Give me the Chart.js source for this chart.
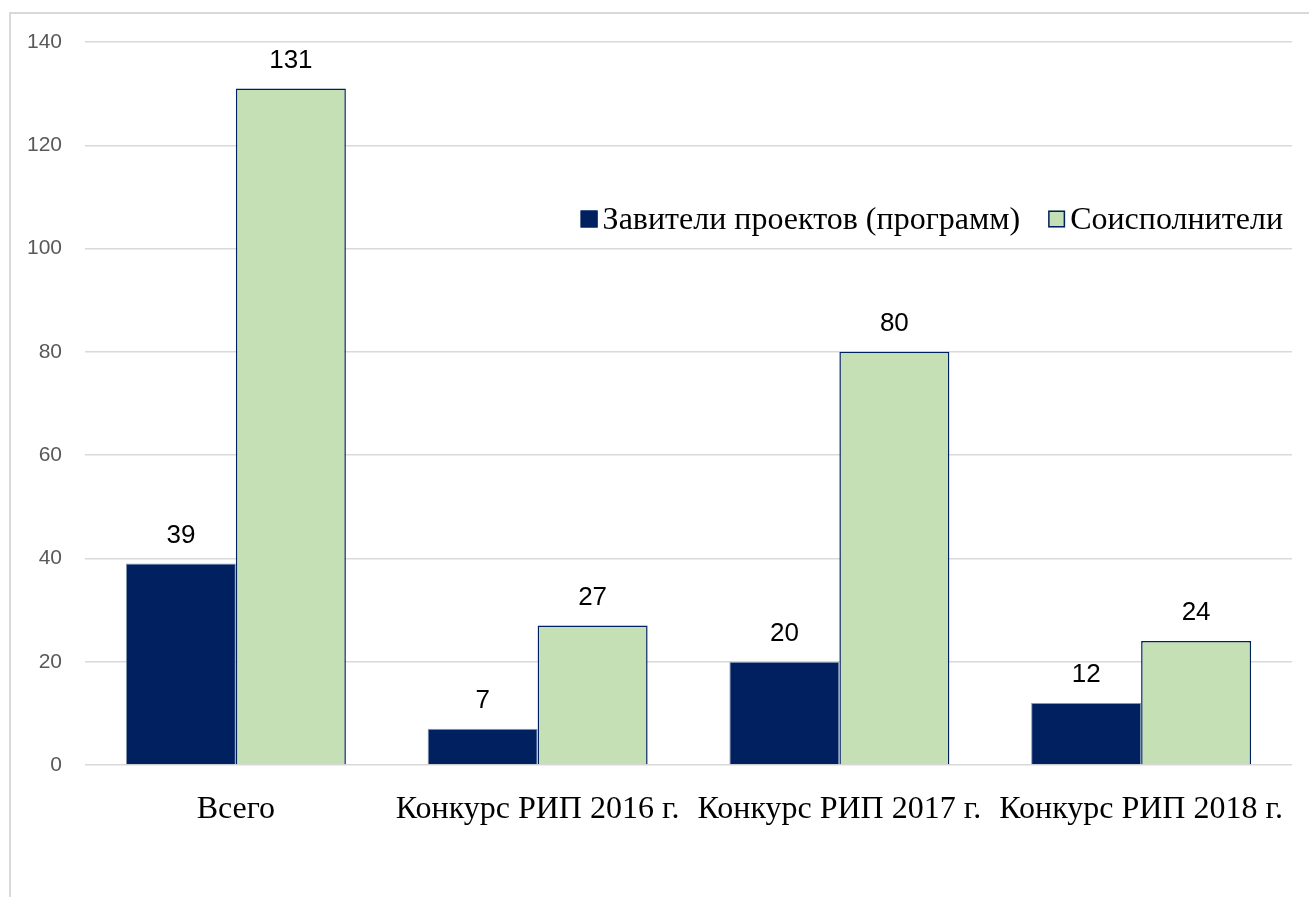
<!DOCTYPE html>
<html>
<head>
<meta charset="utf-8">
<script src="https://cdn.jsdelivr.net/npm/chart.js@4.4.0/dist/chart.umd.min.js"></script>
<style>
html,body{margin:0;padding:0;background:#fff;}
#wrap{position:relative;width:1309px;height:897px;}
canvas{display:block;}
</style>
</head>
<body>
<div id="wrap"><canvas id="c" width="1309" height="897"></canvas></div>
<script>
const categories = ["Всего", "Конкурс РИП 2016 г.", "Конкурс РИП 2017 г.", "Конкурс РИП 2018 г."];
const seriesNames = ["Завители проектов (программ)", "Соисполнители"];
const applicants = [39, 7, 20, 12];
const coexecutors = [131, 27, 80, 24];
const yTicks = [0, 20, 40, 60, 80, 100, 120, 140];

const NAVY = "#002060";
const GREEN = "#C5E0B4";

const frame = {
  id: "frame",
  beforeDraw(chart) {
    const ctx = chart.ctx;
    ctx.save();
    ctx.fillStyle = "#fff";
    ctx.fillRect(0, 0, chart.width, chart.height);
    ctx.strokeStyle = "#d9d9d9";
    ctx.lineWidth = 2;
    ctx.strokeRect(10, 13, 1400, 1000);
    ctx.restore();
  }
};

const valueLabels = {
  id: "valueLabels",
  afterDatasetsDraw(chart) {
    const ctx = chart.ctx;
    ctx.save();
    ctx.font = "26px 'Liberation Sans', Arial, sans-serif";
    ctx.fillStyle = "#000";
    ctx.textAlign = "center";
    ctx.textBaseline = "middle";
    chart.data.datasets.forEach((ds, i) => {
      const meta = chart.getDatasetMeta(i);
      meta.data.forEach((bar, j) => {
        ctx.fillText(String(ds.data[j]), bar.x, bar.y - 28);
      });
    });
    ctx.restore();
  }
};

const customLegend = {
  id: "customLegend",
  afterDraw(chart) {
    const ctx = chart.ctx;
    ctx.save();
    ctx.font = "32px 'Liberation Serif', 'Times New Roman', serif";
    ctx.textBaseline = "middle";
    ctx.textAlign = "left";
    const box = 17, gapBoxText = 5, gapItems = 28;
    const items = chart.data.datasets.map(ds => ({
      text: ds.label, bg: ds.backgroundColor, border: ds.borderColor,
      w: ctx.measureText(ds.label).width
    }));
    let total = 0;
    items.forEach((it, i) => { total += box + gapBoxText + it.w + (i < items.length - 1 ? gapItems : 0); });
    let x = 1283 - total;
    const cy = 219;
    items.forEach(it => {
      ctx.fillStyle = it.bg;
      ctx.fillRect(x, cy - box / 2, box, box);
      ctx.strokeStyle = NAVY;
      ctx.lineWidth = 1.5;
      ctx.strokeRect(x + 0.75, cy - box / 2 + 0.75, box - 1.5, box - 1.5);
      ctx.fillStyle = "#000";
      ctx.fillText(it.text, x + box + gapBoxText, cy + 2);
      x += box + gapBoxText + it.w + gapItems;
    });
    ctx.restore();
  }
};

new Chart(document.getElementById("c"), {
  type: "bar",
  data: {
    labels: categories,
    datasets: [
      { label: seriesNames[0], data: applicants, backgroundColor: NAVY, borderColor: "#8497b0", borderWidth: 1 },
      { label: seriesNames[1], data: coexecutors, backgroundColor: GREEN, borderColor: NAVY, borderWidth: 1.5 }
    ]
  },
  options: {
    responsive: false,
    animation: false,
    devicePixelRatio: 1,
    layout: { padding: { left: 0, right: 17, top: 42, bottom: 0 } },
    datasets: { bar: { categoryPercentage: 0.729, barPercentage: 1.0 } },
    plugins: { legend: { display: false }, tooltip: { enabled: false } },
    scales: {
      x: {
        grid: { display: false },
        border: { display: false },
        ticks: {
          color: "#000",
          font: { family: "'Liberation Serif', 'Times New Roman', serif", size: 32 },
          padding: 17,
          maxRotation: 0,
          autoSkip: false
        },
        afterFit(s) { s.height = 132; }
      },
      y: {
        min: 0, max: 140,
        afterBuildTicks(s) { s.ticks = yTicks.map(v => ({ value: v })); },
        grid: { color: "#d9d9d9", lineWidth: 1.5, drawTicks: false },
        border: { display: false },
        ticks: {
          color: "#595959",
          font: { family: "'Liberation Sans', Arial, sans-serif", size: 21 },
          padding: 23
        },
        afterFit(s) { s.width = 85; }
      }
    }
  },
  plugins: [frame, valueLabels, customLegend]
});
</script>
</body>
</html>
